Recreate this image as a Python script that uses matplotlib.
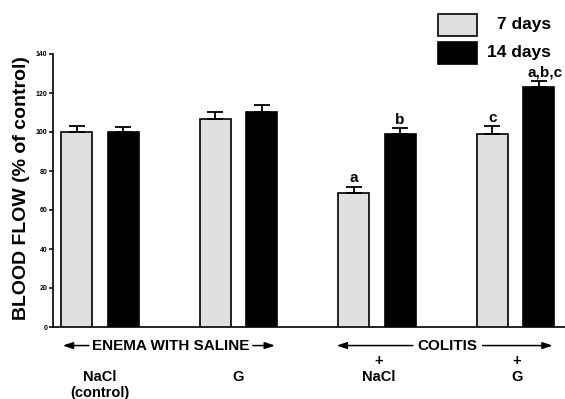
import matplotlib
matplotlib.use('Agg')
import matplotlib.pyplot as plt
import matplotlib.transforms as mtransforms
from matplotlib.patches import Rectangle
import numpy as np

plt.rcParams['font.family'] = ['Liberation Sans', 'DejaVu Sans']
plt.rcParams['font.weight'] = 'bold'

# data
groups = ['NaCl\n(control)', 'G', 'NaCl', 'G']
days7 = [100, 106.5, 68.5, 99]
days7_err = [3, 4, 3.5, 4]
days14 = [100, 110.5, 99, 123]
days14_err = [2.5, 3.5, 3, 3]
letters7 = ['', '', 'a', 'c']
letters14 = ['', '', 'b', 'a,b,c']
yticks = [0, 20, 40, 60, 80, 100, 120, 140]

light = '#e0e0e0'
dark = '#000000'

fig = plt.figure(figsize=(5.65, 3.99), dpi=100)
ax = fig.add_axes([53 / 565, 72 / 399, 512 / 565, 273 / 399])

x = np.arange(len(groups))
off = 0.167
w = 0.224

ax.bar(x - off, days7, w, color=light, edgecolor='black', linewidth=1.2,
       yerr=[np.zeros(len(x)), days7_err], capsize=6,
       error_kw=dict(elinewidth=1.3, capthick=1.3, ecolor='black'), zorder=3)
ax.bar(x + off, days14, w, color=dark, edgecolor='black', linewidth=1.2,
       yerr=[np.zeros(len(x)), days14_err], capsize=6,
       error_kw=dict(elinewidth=1.3, capthick=1.3, ecolor='black'), zorder=3)

# significance letters
for i in range(len(x)):
    if letters7[i]:
        ax.text(x[i] - off, days7[i] + days7_err[i] + 2.3, letters7[i],
                ha='center', va='baseline', fontsize=11, fontweight='bold')
    if letters14[i]:
        ha = 'left' if len(letters14[i]) > 1 else 'center'
        xx = x[i] + off - 0.08 if ha == 'left' else x[i] + off
        ax.text(xx, days14[i] + days14_err[i] + 2.3, letters14[i],
                ha=ha, va='baseline', fontsize=11, fontweight='bold')

ax.set_xlim(-0.339, 3.358)
ax.set_ylim(0, 140)
ax.set_yticks(yticks)
ax.set_xticks([])
ax.tick_params(axis='y', length=3, width=1.1, pad=1, labelsize=5)
for lab in ax.get_yticklabels():
    lab.set_fontweight('bold')
ax.spines['top'].set_visible(False)
ax.spines['right'].set_visible(False)
ax.spines['left'].set_linewidth(1.2)
ax.spines['bottom'].set_linewidth(1.2)

ax.set_ylabel('BLOOD FLOW (% of control)', fontsize=14, fontweight='bold')
ax.yaxis.set_label_coords(-0.062, 0.51)
ax.yaxis.label.set_va('center')

# labels under the axis
trans = mtransforms.blended_transform_factory(ax.transData, ax.transAxes)
ya = -0.068
arrow = dict(arrowstyle='-|>,head_length=0.6,head_width=0.2', lw=1.1, color='black',
             shrinkA=0, shrinkB=0)
for x0, x1 in [(-0.079, -0.269), (1.103, 1.264), (2.260, 1.709), (2.763, 3.269)]:
    ax.annotate('', xy=(x1, ya), xytext=(x0, ya), xycoords=trans, textcoords=trans,
                arrowprops=arrow, annotation_clip=False)
ax.text(0.509, ya, 'ENEMA WITH SALINE', transform=trans, ha='center', va='center',
        fontsize=11, fontweight='bold')
ax.text(2.511, ya, 'COLITIS', transform=trans, ha='center', va='center',
        fontsize=11, fontweight='bold')

ax.text(0, -0.183, 'NaCl', transform=trans, ha='center', va='center', fontsize=10.5)
ax.text(0, -0.242, '(control)', transform=trans, ha='center', va='center', fontsize=10.5)
ax.text(1, -0.183, 'G', transform=trans, ha='center', va='center', fontsize=10.5)
ax.text(2.01, -0.125, '+', transform=trans, ha='center', va='center', fontsize=10.5)
ax.text(2.01, -0.183, 'NaCl', transform=trans, ha='center', va='center', fontsize=10.5)
ax.text(3.01, -0.125, '+', transform=trans, ha='center', va='center', fontsize=10.5)
ax.text(3.01, -0.183, 'G', transform=trans, ha='center', va='center', fontsize=10.5)

# legend drawn by hand, in figure pixels
H = 399
fig.patches.append(Rectangle((438 / 565, (H - 36) / H), 39 / 565, 22 / H,
                             transform=fig.transFigure, facecolor=light,
                             edgecolor='black', linewidth=1.2))
fig.patches.append(Rectangle((438 / 565, (H - 64) / H), 39 / 565, 22 / H,
                             transform=fig.transFigure, facecolor=dark,
                             edgecolor='black', linewidth=1.2))
fig.text(551 / 565, (H - 25) / H, '7 days', ha='right', va='center', fontsize=12.5,
         fontweight='bold')
fig.text(551 / 565, (H - 53) / H, '14 days', ha='right', va='center', fontsize=12.5,
         fontweight='bold')

fig.savefig('out.png', dpi=100)
